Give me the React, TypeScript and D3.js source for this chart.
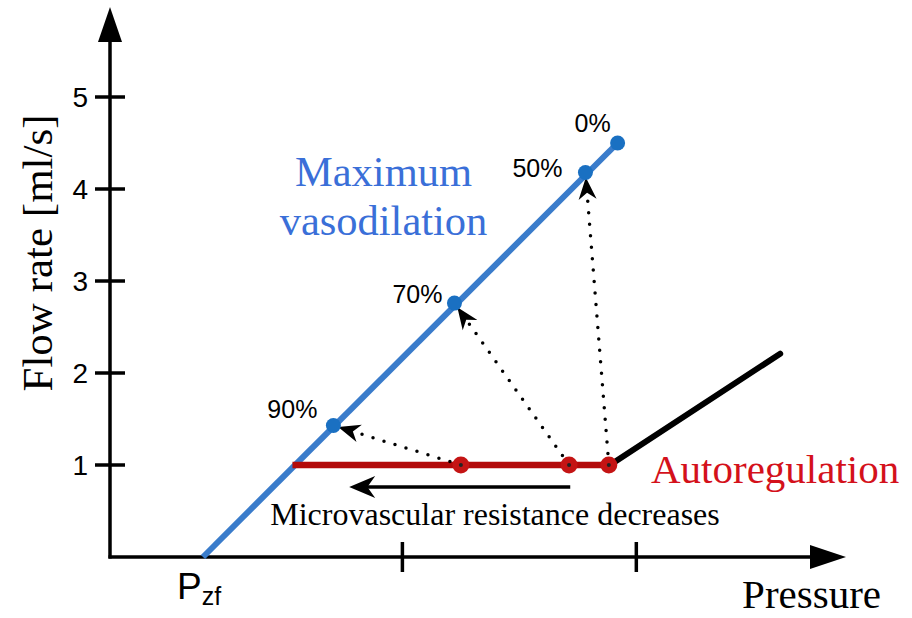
import * as d3 from "d3";

// pressure in arbitrary units, flow in ml/s
const flowTicks = [1, 2, 3, 4, 5];
const pressureTicks = [50, 90];
const pzf = 15.9;

const dilationLabels = ["0%", "50%", "70%", "90%"];
const dilationP = [86.8, 81.3, 58.9, 38.2];
const dilationQ = [4.5, 4.18, 2.76, 1.43];

const autoregP = [31.2, 85.5];
const autoregPointsP = [60.0, 78.5, 85.3];
const autoregQ = 1;
const passiveP = [85.5, 114.6];
const passiveQ = [1, 2.21];

// which dilation point each red point moves to
const arrowTargets = [3, 2, 1];
const resistArrowP = [78.7, 40.9];
const resistArrowQ = 0.76;

const W = 912;
const H = 618;
const x = d3.scaleLinear().domain([0, 125]).range([110, 841]);
const y = d3.scaleLinear().domain([0, 1]).range([557, 465]);

const BLUE = "#3a7ccb";
const BLUE_DOT = "#1a70c2";
const RED = "#b30a0a";
const RED_DOT = "#c41414";
const SANS = "'Liberation Sans', Arial, sans-serif";
const SERIF = "'Liberation Serif', 'Times New Roman', serif";

// filled arrowhead with a notch, tip at (tx,ty), pointing along angle
function arrowHead(tx: number, ty: number, ang: number, len = 22, half = 9) {
  const c = Math.cos(ang), s = Math.sin(ang);
  const pt = (a: number, b: number) => [tx - a * c - b * -s, ty - a * s - b * c];
  const p1 = pt(len, half);
  const p2 = pt(len * 0.7, 0);
  const p3 = pt(len, -half);
  return `M${tx},${ty}L${p1[0]},${p1[1]}L${p2[0]},${p2[1]}L${p3[0]},${p3[1]}Z`;
}

export default function App() {
  const line = d3.line<[number, number]>().x((d) => x(d[0])).y((d) => y(d[1]));
  const y0 = y(0);
  const x0 = x(0);

  const dotted = autoregPointsP.map((p, i) => {
    const t = arrowTargets[i];
    const sx = x(p), sy = y(autoregQ);
    const ex = x(dilationP[t]), ey = y(dilationQ[t]);
    const ang = Math.atan2(ey - sy, ex - sx);
    const d = Math.hypot(ex - sx, ey - sy);
    const tipX = sx + Math.cos(ang) * (d - 5);
    const tipY = sy + Math.sin(ang) * (d - 5);
    const lx = sx + Math.cos(ang) * (d - 20);
    const ly = sy + Math.sin(ang) * (d - 20);
    return { sx, sy, lx, ly, tipX, tipY, ang };
  });

  // label offset from its point: dx, dy, anchor
  const labelOffsets: [number, number, string][] = [
    [-25, -11, "middle"],
    [-23, 5, "end"],
    [-12, 0, "end"],
    [-16, -7, "end"],
  ];

  return (
    <svg width={W} height={H} style={{ position: "absolute", left: 0, top: 0, background: "#fff" }}>
      {/* axes */}
      <g stroke="#000" strokeWidth={3.5} fill="none">
        <line x1={x0} y1={y0 + 1.5} x2={x0} y2={40} />
        <line x1={x0 - 1.5} y1={y0} x2={812} y2={y0} />
        {flowTicks.map((t) => (
          <line key={t} x1={x0 - 15} x2={x0 + 15} y1={y(t)} y2={y(t)} />
        ))}
        {pressureTicks.map((t) => (
          <line key={t} x1={x(t)} x2={x(t)} y1={y0 - 15} y2={y0 + 15} />
        ))}
      </g>
      <path d={`M${x0},7L${x0 - 12},42L${x0 + 12},42Z`} fill="#000" />
      <path d={`M846,${y0}L810,${y0 - 12}L810,${y0 + 12}Z`} fill="#000" />

      {flowTicks.map((t) => (
        <text key={t} x={88} y={y(t) + 10} textAnchor="end" fontFamily={SANS} fontSize={28}>
          {t}
        </text>
      ))}
      <text
        transform={`translate(52,253) rotate(-90)`}
        textAnchor="middle"
        fontFamily={SERIF}
        fontSize={43}
      >
        Flow rate [ml/s]
      </text>
      <text x={177} y={599} fontFamily={SANS} fontSize={37}>
        P
        <tspan fontSize={25} dy={6}>zf</tspan>
      </text>
      <text x={881} y={608} textAnchor="end" fontFamily={SERIF} fontSize={41}>
        Pressure
      </text>

      {/* maximum vasodilation line */}
      <path
        d={line([[pzf, 0], [dilationP[0], dilationQ[0]]]) || ""}
        stroke={BLUE}
        strokeWidth={6}
        fill="none"
      />
      {/* passive line above autoregulation */}
      <path
        d={line([[passiveP[0], passiveQ[0]], [passiveP[1], passiveQ[1]]]) || ""}
        stroke="#000"
        strokeWidth={6}
        strokeLinecap="round"
        fill="none"
      />
      {/* autoregulation plateau */}
      <path
        d={line([[autoregP[0], autoregQ], [autoregP[1], autoregQ]]) || ""}
        stroke={RED}
        strokeWidth={6.5}
        fill="none"
      />

      {/* dotted arrows */}
      {dotted.map((a, i) => (
        <g key={i}>
          <line
            x1={a.sx}
            y1={a.sy}
            x2={a.lx}
            y2={a.ly}
            stroke="#000"
            strokeWidth={3.5}
            strokeLinecap="round"
            strokeDasharray="0 11.5"
          />
          <path d={arrowHead(a.tipX, a.tipY, a.ang)} fill="#000" />
        </g>
      ))}

      {dilationP.map((p, i) => (
        <circle key={i} cx={x(p)} cy={y(dilationQ[i])} r={7.5} fill={BLUE_DOT} />
      ))}
      {dilationLabels.map((l, i) => (
        <text
          key={l}
          x={x(dilationP[i]) + labelOffsets[i][0]}
          y={y(dilationQ[i]) + labelOffsets[i][1]}
          textAnchor={labelOffsets[i][2] as any}
          fontFamily={SANS}
          fontSize={25}
        >
          {l}
        </text>
      ))}

      {autoregPointsP.map((p, i) => (
        <g key={i}>
          <circle cx={x(p)} cy={y(autoregQ)} r={8.5} fill={RED_DOT} />
          <circle cx={x(p)} cy={y(autoregQ)} r={2} fill="#222" />
        </g>
      ))}

      {/* resistance arrow */}
      <line
        x1={x(resistArrowP[0])}
        y1={y(resistArrowQ)}
        x2={x(resistArrowP[1]) + 15}
        y2={y(resistArrowQ)}
        stroke="#000"
        strokeWidth={3.5}
      />
      <path d={arrowHead(x(resistArrowP[1]), y(resistArrowQ), Math.PI, 26, 11)} fill="#000" />
      <text x={495} y={525} textAnchor="middle" fontFamily={SERIF} fontSize={32}>
        Microvascular resistance decreases
      </text>

      <text x={383.5} y={186} textAnchor="middle" fontFamily={SERIF} fontSize={42.5} fill="#3a6fd8">
        Maximum
      </text>
      <text x={383.5} y={235} textAnchor="middle" fontFamily={SERIF} fontSize={42.5} fill="#3a6fd8">
        vasodilation
      </text>
      <text x={651} y={483} fontFamily={SERIF} fontSize={41} fill="#d4111b">
        Autoregulation
      </text>
    </svg>
  );
}
